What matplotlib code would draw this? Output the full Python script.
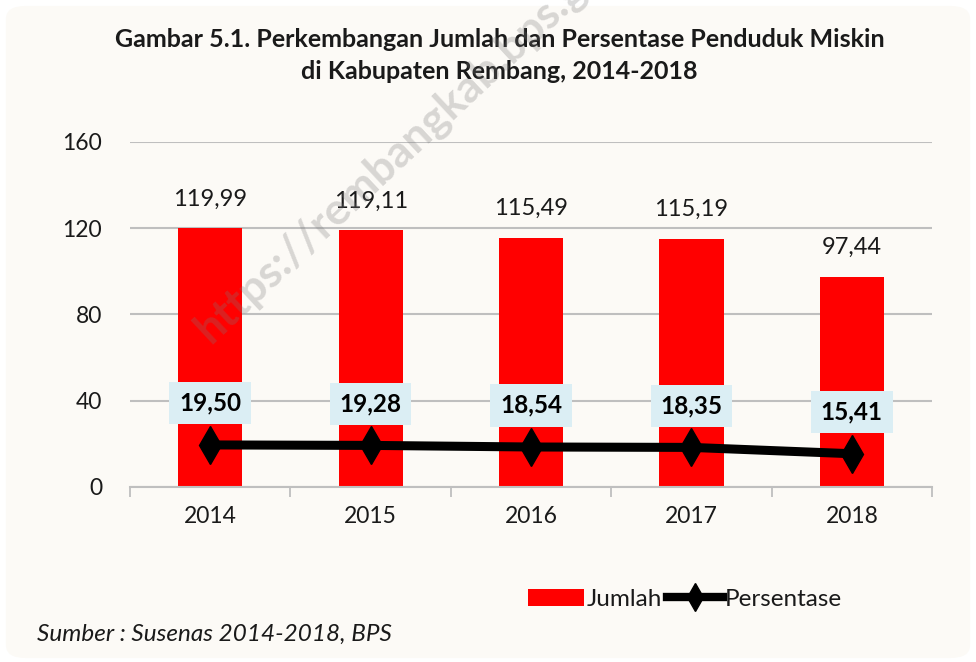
import matplotlib.pyplot as plt
from matplotlib.patches import FancyBboxPatch
from matplotlib.lines import Line2D
from matplotlib.patches import Patch

# ==================== data ====================
years = ['2014', '2015', '2016', '2017', '2018']
jumlah = [119.99, 119.11, 115.49, 115.19, 97.44]       # ribu jiwa
persentase = [19.50, 19.28, 18.54, 18.35, 15.41]       # persen
y_ticks = [0, 40, 80, 120, 160]

def fmt(v):
    return f'{v:.2f}'.replace('.', ',')

plt.rcParams['font.family'] = ['Lato', 'DejaVu Sans']

fig = plt.figure(figsize=(9.76, 6.62), dpi=100, facecolor='white')

# latar belakang kartu (sudut membulat)
bg = FancyBboxPatch((0.006, 0.006), 0.988, 0.985, boxstyle='round,pad=0,rounding_size=0.02',
                    transform=fig.transFigure, facecolor='#fcfaf6', edgecolor='none', zorder=-5)
fig.patches.append(bg)

ax = fig.add_axes([0.1332, 0.2644, 0.8218, 0.5211])
ax.set_facecolor('none')

x = list(range(len(years)))
ax.bar(x, jumlah, width=0.4, color='#ff0000', zorder=2)
ax.plot(x, persentase, color='black', linewidth=6.5, marker='d', markersize=19,
        markerfacecolor='black', markeredgecolor='black', zorder=3)

# label batang
for xi, v in zip(x, jumlah):
    ax.annotate(fmt(v), (xi, v), xytext=(0, 21), textcoords='offset points',
                ha='center', va='center', fontsize=17, color='#1a1a1a', zorder=4)

# label persentase (kotak biru muda)
for xi, v in zip(x, persentase):
    ax.annotate(fmt(v), (xi, v), xytext=(0, 30), textcoords='offset points',
                ha='center', va='center', fontsize=17.5, fontweight='bold', color='black',
                bbox=dict(boxstyle='square,pad=0.4', facecolor='#dbeef4', edgecolor='none'),
                zorder=5)

ax.set_xlim(-0.5, 4.5)
ax.set_ylim(0, 160)
ax.set_yticks(y_ticks)
ax.set_yticklabels([str(t) for t in y_ticks], fontsize=16.5, color='#1a1a1a')
ax.set_xticks(x)
ax.set_xticklabels(years, fontsize=16.5, color='#1a1a1a')
ax.tick_params(axis='y', length=0, pad=20)
ax.tick_params(axis='x', length=0, pad=14)
# garis tick di batas kategori
ax.set_xticks([i - 0.5 for i in range(len(years) + 1)], minor=True)
ax.tick_params(axis='x', which='minor', length=7, width=1.3, color='#bfbfbf')

ax.grid(axis='y', color='#bfbfbf', linewidth=1.5, zorder=1)
ax.set_axisbelow(True)
for s in ['top', 'right', 'left']:
    ax.spines[s].set_visible(False)
ax.spines['bottom'].set_color('#bfbfbf')
ax.spines['bottom'].set_linewidth(1.5)

# judul
fig.text(0.512, 0.940, 'Gambar 5.1. Perkembangan Jumlah dan Persentase Penduduk Miskin',
         ha='center', va='center', fontsize=18, fontweight='bold', color='#1a1a1a')
fig.text(0.512, 0.892, 'di Kabupaten Rembang, 2014-2018',
         ha='center', va='center', fontsize=18, fontweight='bold', color='#1a1a1a')

# legenda
handles = [Patch(facecolor='#ff0000', edgecolor='none', label='Jumlah'),
           Line2D([0], [0], color='black', linewidth=6, marker='d', markersize=14, label='Persentase')]
fig.legend(handles=handles, loc='center', bbox_to_anchor=(0.702, 0.095), ncol=2,
           frameon=False, fontsize=17.5, handlelength=2.3, handletextpad=0.1,
           columnspacing=0.2, labelcolor='#1a1a1a')

# sumber
fig.text(0.038, 0.042, 'Sumber : Susenas 2014-2018, BPS', ha='left', va='center',
         fontsize=17.5, fontstyle='italic', color='#1a1a1a')

# watermark
fig.text(0.215, 0.48, 'https://rembangkab.bps.go.id', rotation=43, rotation_mode='anchor',
         ha='left', va='baseline', fontsize=32, fontweight='bold', color='#7a7a7a',
         alpha=0.28, zorder=10)

plt.savefig('out.png', dpi=100, facecolor='white')
